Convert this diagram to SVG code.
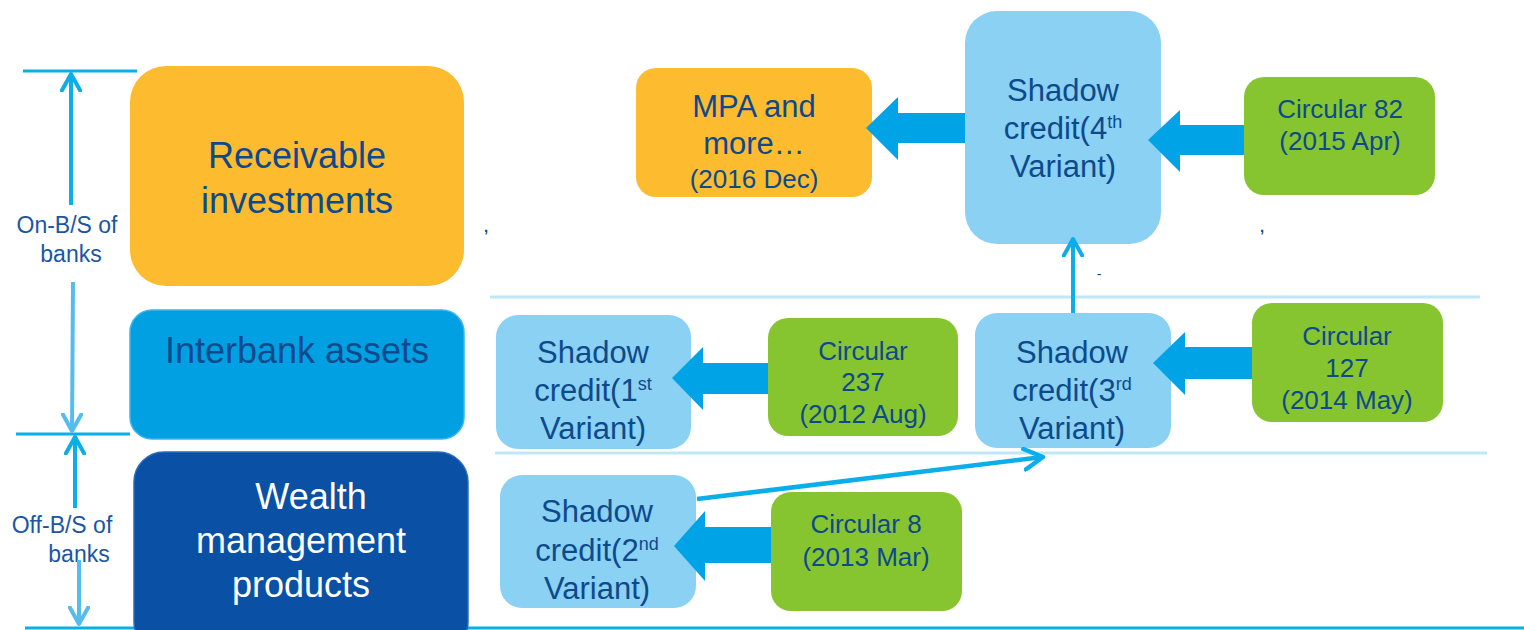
<svg xmlns="http://www.w3.org/2000/svg" width="1524" height="630" viewBox="0 0 1524 630">
<style>
text{font-family:"Liberation Sans",Arial,sans-serif;fill:#0d4a8c;text-anchor:middle}
.big{font-size:36px}
.mid{font-size:31px}
.sm{font-size:26px}
.lab{font-size:23px;fill:#1a56a5}
.sup{font-size:18px}
.yel{fill:#fdbb30}
.lb{fill:#8ad1f3}
.gr{fill:#86c430}
.sep{stroke:#bfe7f8;stroke-width:3}
.ln{stroke:#0aaee8;stroke-width:3;fill:none}
.blk{fill:#00a3e6}
</style>
<defs>
<marker id="chevA" viewBox="0 0 12 12" refX="10" refY="6" markerWidth="5.5" markerHeight="5.5" orient="auto" markerUnits="strokeWidth">
<path d="M1,1 L10,6 L1,11" fill="none" stroke="#0aaee8" stroke-width="2.2" stroke-linecap="round" stroke-linejoin="round"/>
</marker>
<marker id="chevB" viewBox="0 0 12 12" refX="10" refY="6" markerWidth="5.5" markerHeight="5.5" orient="auto" markerUnits="strokeWidth">
<path d="M1,1 L10,6 L1,11" fill="none" stroke="#55bdee" stroke-width="2.2" stroke-linecap="round" stroke-linejoin="round"/>
</marker>
</defs>
<rect width="1524" height="630" fill="#ffffff"/>

<g id="separators">
<line class="sep" x1="490" y1="297" x2="1480" y2="297"/>
<line class="sep" x1="495" y1="453" x2="1487" y2="453"/>
</g>

<g id="scale">
<line class="ln" x1="23" y1="71" x2="137" y2="71"/>
<line class="ln" x1="16" y1="434" x2="130" y2="434"/>
<line class="ln" x1="25" y1="628" x2="1524" y2="628"/>
<text class="lab" x="67" y="233">On-B/S of</text>
<text class="lab" x="71" y="262">banks</text>
<text class="lab" x="62" y="533">Off-B/S of</text>
<text class="lab" x="79" y="562">banks</text>
</g>

<g id="n-receivable">
<rect x="130" y="66" width="334" height="220" rx="36" class="yel"/>
<text class="big" x="297" y="168">Receivable</text>
<text class="big" x="297" y="213">investments</text>
</g>
<g id="n-interbank">
<rect x="130" y="310" width="334" height="129" rx="22" fill="#00a0e3" stroke="#3bb5ea" stroke-width="1.5"/>
<text class="big" x="297" y="363">Interbank assets</text>
</g>
<g id="n-wmp">
<rect x="134" y="452" width="334" height="200" rx="30" fill="#0a50a4" stroke="#2a6bb8" stroke-width="1.5"/>
<text class="big" x="311" y="509" style="fill:#ffffff">Wealth</text>
<text class="big" x="301" y="553" style="fill:#ffffff">management</text>
<text class="big" x="301" y="597" style="fill:#ffffff">products</text>
</g>

<g id="n-sc1">
<rect x="496" y="315" width="195" height="134" rx="22" class="lb"/>
<text class="mid" x="593" y="363">Shadow</text>
<text class="mid" x="593" y="401">credit(1<tspan class="sup" dy="-11">st</tspan></text>
<text class="mid" x="593" y="439">Variant)</text>
</g>
<g id="n-c237">
<rect x="768" y="318" width="190" height="118" rx="20" class="gr"/>
<text class="sm" x="863" y="360">Circular</text>
<text class="sm" x="863" y="391">237</text>
<text class="sm" x="863" y="423">(2012 Aug)</text>
</g>
<g id="n-sc3">
<rect x="975" y="313" width="196" height="135" rx="22" class="lb"/>
<text class="mid" x="1072" y="363">Shadow</text>
<text class="mid" x="1072" y="401">credit(3<tspan class="sup" dy="-11">rd</tspan></text>
<text class="mid" x="1072" y="439">Variant)</text>
</g>
<g id="n-c127">
<rect x="1252" y="303" width="191" height="119" rx="20" class="gr"/>
<text class="sm" x="1347" y="345">Circular</text>
<text class="sm" x="1347" y="377">127</text>
<text class="sm" x="1347" y="409">(2014 May)</text>
</g>
<g id="n-sc4">
<rect x="965" y="11" width="196" height="233" rx="32" class="lb"/>
<text class="mid" x="1063" y="101">Shadow</text>
<text class="mid" x="1063" y="139">credit(4<tspan class="sup" dy="-11">th</tspan></text>
<text class="mid" x="1063" y="177">Variant)</text>
</g>
<g id="n-c82">
<rect x="1244" y="77" width="191" height="118" rx="20" class="gr"/>
<text class="sm" x="1340" y="118">Circular 82</text>
<text class="sm" x="1340" y="150">(2015 Apr)</text>
</g>
<g id="n-mpa">
<rect x="636" y="68" width="236" height="129" rx="20" class="yel"/>
<text class="mid" x="754" y="117">MPA and</text>
<text class="mid" x="754" y="154">more…</text>
<text class="sm" x="754" y="188">(2016 Dec)</text>
</g>
<g id="n-sc2">
<rect x="500" y="475" width="196" height="133" rx="22" class="lb"/>
<text class="mid" x="597" y="522">Shadow</text>
<text class="mid" x="597" y="561">credit(2<tspan class="sup" dy="-11">nd</tspan></text>
<text class="mid" x="597" y="599">Variant)</text>
</g>
<g id="n-c8">
<rect x="771" y="492" width="191" height="119" rx="20" class="gr"/>
<text class="sm" x="866" y="533">Circular 8</text>
<text class="sm" x="866" y="566">(2013 Mar)</text>
</g>

<g id="connectors">
<line x1="71" y1="205" x2="71" y2="74" stroke="#0aaee8" stroke-width="4" marker-end="url(#chevA)"/>
<line x1="73" y1="282" x2="72" y2="431" stroke="#55bdee" stroke-width="4" marker-end="url(#chevB)"/>
<line x1="75" y1="508" x2="75" y2="437" stroke="#0aaee8" stroke-width="4" marker-end="url(#chevA)"/>
<line x1="79" y1="560" x2="79" y2="624" stroke="#55bdee" stroke-width="4" marker-end="url(#chevB)"/>
<line x1="1073" y1="313" x2="1073" y2="239" stroke="#0aaee8" stroke-width="4" marker-end="url(#chevA)"/>
<line x1="697" y1="499" x2="1043" y2="457" stroke="#0aaee8" stroke-width="4.5" marker-end="url(#chevA)"/>
<polygon class="blk" points="768,363 703,363 703,347 672,378 703,410 703,394 768,394"/>
<polygon class="blk" points="1252,347 1185,347 1185,332 1153,363 1185,395 1185,379 1252,379"/>
<polygon class="blk" points="1244,125 1180,125 1180,110 1148,140 1180,172 1180,155 1244,155"/>
<polygon class="blk" points="965,113 898,113 898,97 866,128 898,160 898,143 965,143"/>
<polygon class="blk" points="771,527 705,527 705,511 674,546 705,581 705,563 771,563"/>
</g>

<g id="stray-marks">
<text x="486" y="232" style="font-size:15px;font-weight:bold">,</text>
<text x="1262" y="232" style="font-size:15px;font-weight:bold">,</text>
<text x="1099" y="279" style="font-size:14px">-</text>
</g>
</svg>
